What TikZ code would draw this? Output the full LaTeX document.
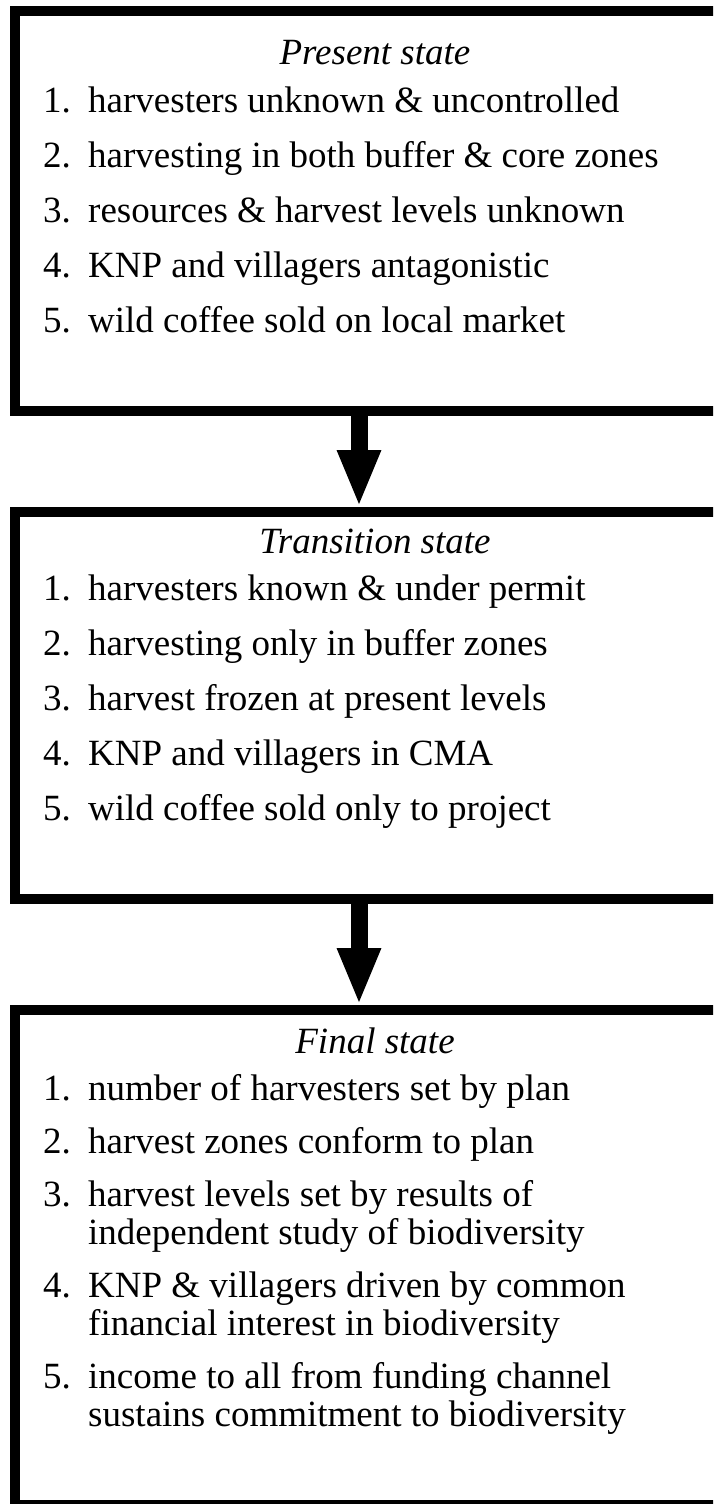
\documentclass[tikz,border=0pt]{standalone}
\usepackage{fontspec}
\setmainfont{Liberation Serif}
\usetikzlibrary{arrows.meta}
\begin{document}
\begin{tikzpicture}[x=1pt,y=-1pt,
  box/.style={draw, line width=10pt, rectangle, inner sep=0pt, minimum width=726pt},
  title/.style={font=\fontsize{37}{44}\selectfont\itshape, anchor=base, inner sep=0pt},
  num/.style={font=\fontsize{37}{44}\selectfont, anchor=base west, inner sep=0pt},
  itm/.style={font=\fontsize{37}{44}\selectfont, anchor=base west, inner sep=0pt},
  flow/.style={line width=17pt, -{Triangle[width=40pt,length=57pt]}}]
\useasboundingbox (0,0) rectangle (713,1504);
\clip (0,0) rectangle (713,1504);
\fill[white] (0,0) rectangle (713,1504);
% boxes
\node[box, minimum height=400pt] (b1) at (378,211) {};
\node[box, minimum height=387pt] (b2) at (378,705.5) {};
\node[box, minimum height=495pt] (b3) at (378,1257.5) {};
% arrows
\draw[flow] ([xshift=-19pt]b1.south) -- ([xshift=-19pt]b2.north);
\draw[flow] ([xshift=-19pt]b2.south) -- ([xshift=-19pt]b3.north);
% box 1
\node[title] (h1) at (375,65) {Present state};
\node[num] (n11) at (43,112) {1.};
\node[itm] (t11) at (88,112) {harvesters unknown \& uncontrolled};
\node[num] (n12) at (43,167) {2.};
\node[itm] (t12) at (88,167) {harvesting in both buffer \& core zones};
\node[num] (n13) at (43,222) {3.};
\node[itm] (t13) at (88,222) {resources \& harvest levels unknown};
\node[num] (n14) at (43,277) {4.};
\node[itm] (t14) at (88,277) {KNP and villagers antagonistic};
\node[num] (n15) at (43,332) {5.};
\node[itm] (t15) at (88,332) {wild coffee sold on local market};
% box 2
\node[title] (h2) at (375,553) {Transition state};
\node[num] (n21) at (43,600) {1.};
\node[itm] (t21) at (88,600) {harvesters known \& under permit};
\node[num] (n22) at (43,655) {2.};
\node[itm] (t22) at (88,655) {harvesting only in buffer zones};
\node[num] (n23) at (43,710) {3.};
\node[itm] (t23) at (88,710) {harvest frozen at present levels};
\node[num] (n24) at (43,765) {4.};
\node[itm] (t24) at (88,765) {KNP and villagers in CMA};
\node[num] (n25) at (43,820) {5.};
\node[itm] (t25) at (88,820) {wild coffee sold only to project};
% box 3
\node[title] (h3) at (375,1053) {Final state};
\node[num] (n31) at (43,1100) {1.};
\node[itm] (t31) at (88,1100) {number of harvesters set by plan};
\node[num] (n32) at (43,1153) {2.};
\node[itm] (t32) at (88,1153) {harvest zones conform to plan};
\node[num] (n33) at (43,1206) {3.};
\node[itm] (t33) at (88,1206) {harvest levels set by results of};
\node[itm] (t33b) at (88,1244) {independent study of biodiversity};
\node[num] (n34) at (43,1297) {4.};
\node[itm] (t34) at (88,1297) {KNP \& villagers driven by common};
\node[itm] (t34b) at (88,1335) {financial interest in biodiversity};
\node[num] (n35) at (43,1388) {5.};
\node[itm] (t35) at (88,1388) {income to all from funding channel};
\node[itm] (t35b) at (88,1426) {sustains commitment to biodiversity};
\end{tikzpicture}
\end{document}
